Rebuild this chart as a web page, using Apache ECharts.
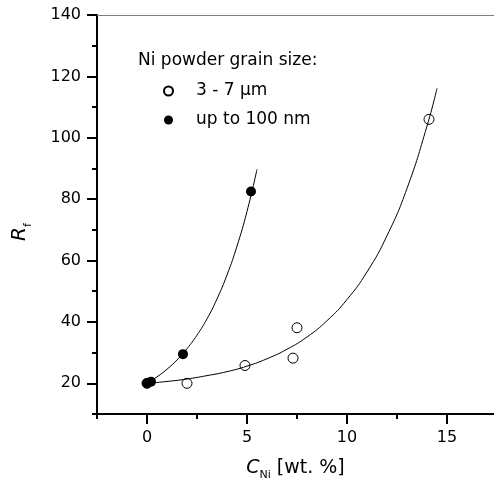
<!DOCTYPE html>
<html>
<head>
<meta charset="utf-8">
<script src="https://cdn.jsdelivr.net/npm/echarts@6/dist/echarts.min.js"></script>
<style>
    html, body { margin: 0; padding: 0; background: #fff; }
    #main { width: 494px; height: 495px; }
</style>
</head>
<body>
<div id="main"></div>
<script>
    // measured points
    const openX = [0, 2, 4.9, 7.3, 7.5, 14.1];
    const openY = [20, 20, 25.8, 28.2, 38.1, 106];
    const filledX = [0, 0.2, 1.8, 5.2];
    const filledY = [20, 20.5, 29.5, 82.5];

    // fit curves
    const openFitX = [0, 1, 2, 3, 4, 5, 6, 7, 8, 9, 10, 11, 12, 13, 14, 14.5];
    const openFitY = [20, 20.6, 21.4, 22.5, 23.8, 25.6, 28.0, 31.1, 35.1, 40.4, 47.3, 56.3, 68.1, 83.5, 103.8, 116.1];
    const filledFitX = [0, 0.5, 1, 1.5, 2, 2.5, 3, 3.5, 4, 4.5, 5, 5.5];
    const filledFitY = [20, 22.1, 24.6, 27.6, 31.3, 35.7, 41.0, 47.5, 55.3, 64.7, 76.0, 89.7];

    const xMajor = [0, 5, 10, 15];
    const xMinor = [-2.5, 2.5, 7.5, 12.5];
    const yMajor = [20, 40, 60, 80, 100, 120, 140];
    const yMinor = [10, 30, 50, 70, 90, 110, 130];

    const seriesNames = ['3 - 7 μm', 'up to 100 nm'];

    const font = 'DejaVu Sans';
    const zip = (xs, ys) => xs.map((x, i) => [x, ys[i]]);

    const chart = echarts.init(document.getElementById('main'));

    const option = {
        animation: false,
        title: {
            text: 'Ni powder grain size:',
            left: 133,
            top: 47,
            textStyle: { fontFamily: font, fontSize: 17, fontWeight: 'normal', color: '#000' }
        },
        legend: {
            data: seriesNames,
            orient: 'vertical',
            left: 158,
            top: 76,
            itemWidth: 9,
            itemHeight: 9,
            itemGap: 9,
            icon: 'circle',
            textStyle: {
                fontFamily: font, fontSize: 17, color: '#000',
                lineHeight: 20, padding: [0, 0, 0, 18]
            }
        },
        graphic: [{
            type: 'text',
            x: 22,
            y: 232,
            rotation: Math.PI / 2,
            style: {
                text: '{r|R}{s|f}',
                align: 'center',
                verticalAlign: 'middle',
                rich: {
                    r: { fontFamily: font, fontSize: 20, fontStyle: 'italic', lineHeight: 24, verticalAlign: 'top', fill: '#000' },
                    s: { fontFamily: font, fontSize: 11, lineHeight: 11, verticalAlign: 'bottom', fill: '#000' }
                }
            }
        }],
        grid: { left: 97, top: 15, right: 0, bottom: 81 },
        xAxis: [{
            type: 'value',
            min: -2.5,
            max: 17.35,
            position: 'bottom',
            splitLine: { show: false },
            axisLine: { onZero: false, lineStyle: { color: '#000', width: 2 } },
            axisTick: { customValues: xMajor, length: 10, lineStyle: { color: '#000', width: 2 } },
            axisLabel: {
                customValues: xMajor, margin: 16,
                fontFamily: font, fontSize: 16, color: '#000'
            },
            name: '{c|C}{s|Ni}{t| [wt. %]}',
            nameLocation: 'middle',
            nameGap: 45,
            nameTextStyle: {
                rich: {
                    c: { fontFamily: font, fontSize: 19, fontStyle: 'italic', lineHeight: 22, verticalAlign: 'top', color: '#000' },
                    s: { fontFamily: font, fontSize: 11, lineHeight: 11, verticalAlign: 'bottom', color: '#000' },
                    t: { fontFamily: font, fontSize: 19, lineHeight: 22, verticalAlign: 'top', color: '#000' }
                }
            }
        }, {
            // minor ticks
            type: 'value',
            min: -2.5,
            max: 17.35,
            position: 'bottom',
            splitLine: { show: false },
            axisLine: { show: false, onZero: false },
            axisTick: { customValues: xMinor, length: 5, lineStyle: { color: '#000', width: 2 } },
            axisLabel: { show: false }
        }, {
            // top frame line
            type: 'value',
            min: -2.5,
            max: 17.35,
            position: 'top',
            splitLine: { show: false },
            axisLine: { onZero: false, lineStyle: { color: '#808080', width: 1 } },
            axisTick: { show: false },
            axisLabel: { show: false }
        }],
        yAxis: [{
            type: 'value',
            min: 10,
            max: 140,
            position: 'left',
            splitLine: { show: false },
            axisLine: { show: true, onZero: false, lineStyle: { color: '#000', width: 2 } },
            axisTick: { show: true, customValues: yMajor, length: 10, lineStyle: { color: '#000', width: 2 } },
            axisLabel: {
                customValues: yMajor, margin: 16,
                fontFamily: font, fontSize: 16, color: '#000'
            }
        }, {
            type: 'value',
            min: 10,
            max: 140,
            position: 'left',
            splitLine: { show: false },
            axisLine: { show: false, onZero: false },
            axisTick: { show: true, customValues: yMinor, length: 5, lineStyle: { color: '#000', width: 2 } },
            axisLabel: { show: false }
        }],
        series: [
            {
                name: seriesNames[0],
                type: 'scatter',
                data: zip(openX, openY),
                symbol: 'circle',
                symbolSize: 10,
                itemStyle: { color: '#fff', borderColor: '#000', borderWidth: 1, opacity: 1 },
                z: 2
            },
            {
                name: seriesNames[1],
                type: 'scatter',
                data: zip(filledX, filledY),
                symbol: 'circle',
                symbolSize: 10,
                itemStyle: { color: '#000', opacity: 1 },
                z: 3
            },
            {
                name: 'fit1',
                type: 'line',
                data: zip(openFitX, openFitY),
                smooth: true,
                showSymbol: false,
                silent: true,
                lineStyle: { color: '#000', width: 1 },
                z: 4
            },
            {
                name: 'fit2',
                type: 'line',
                data: zip(filledFitX, filledFitY),
                smooth: true,
                showSymbol: false,
                silent: true,
                lineStyle: { color: '#000', width: 1 },
                z: 4
            }
        ]
    };
    chart.setOption(option);
</script>
</body>
</html>
